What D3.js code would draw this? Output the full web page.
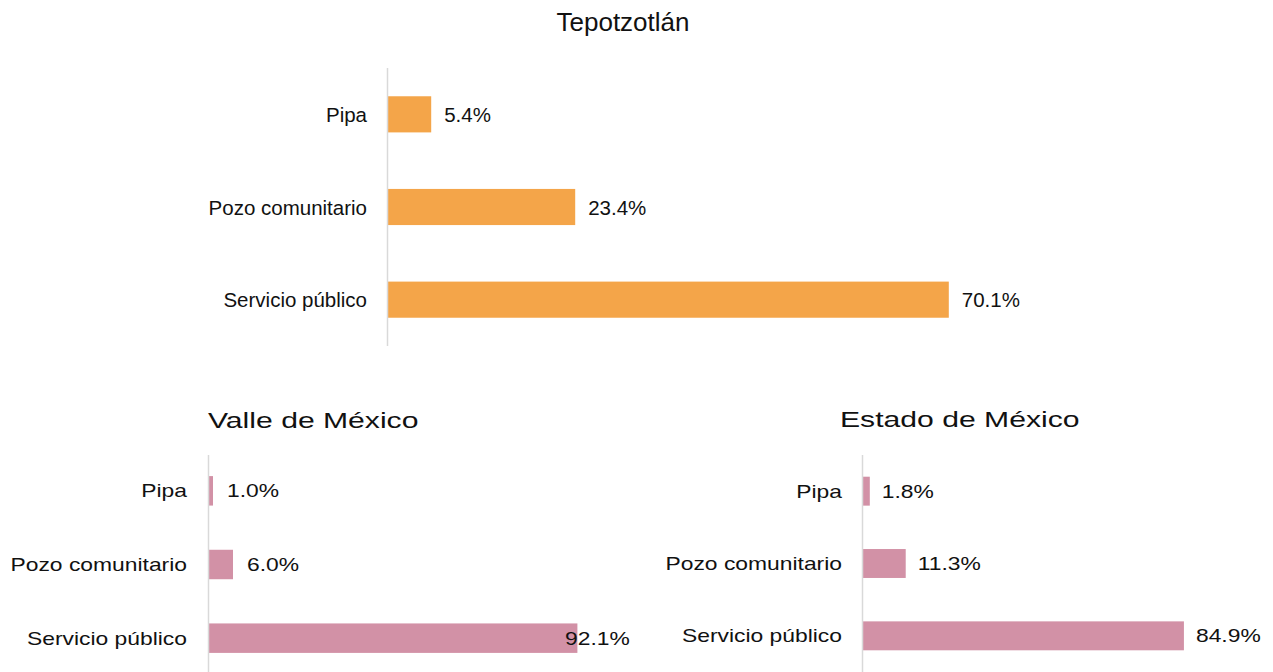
<!DOCTYPE html>
<html><head><meta charset="utf-8">
<script src="https://cdn.jsdelivr.net/npm/d3@7"></script>
<style>
body{margin:0;background:#fff;}
svg{display:block;font-family:"Liberation Sans",Arial,sans-serif;}
</style></head>
<body><svg id="c" width="1273" height="672"></svg>
<script>
const categories = ["Pipa", "Pozo comunitario", "Servicio público"];
const tepotzotlan = [5.4, 23.4, 70.1];
const valleMexico = [1.0, 6.0, 92.1];
const estadoMexico = [1.8, 11.3, 84.9];
const titles = ["Tepotzotlán", "Valle de México", "Estado de México"];

const svg = d3.select("#c");

function panel(cfg){
  const g = svg.append("g");
  const y = d3.scaleBand().domain(categories).range([cfg.y0, cfg.y1]).paddingInner(cfg.pad).paddingOuter(cfg.pad/2);
  const x = d3.scaleLinear().domain([0,100]).range([cfg.x0, cfg.x0 + cfg.w]);
  const fmt = d => d.toFixed(1) + "%";
  // bars
  g.selectAll("rect").data(cfg.values).join("rect")
    .attr("x", x(0)+1).attr("y", (d,i)=>y(categories[i]))
    .attr("width", d=>x(d)-x(0)).attr("height", y.bandwidth())
    .attr("fill", cfg.color);
  // axis line
  const ax = g.append("g").attr("transform", `translate(${cfg.x0+0.5},0)`)
    .call(d3.axisLeft(y).tickSize(0).tickPadding(cfg.tickPad).tickFormat(()=>""));
  ax.select(".domain").attr("stroke","#d9d9d9").attr("stroke-width",1.5)
    .attr("d", `M0,${cfg.axTop}V${cfg.axBot}`);
  // category labels
  g.selectAll("text.cat").data(categories).join("text").attr("class","cat")
    .attr("transform", d=>`translate(${cfg.x0 - cfg.tickPad},${y(d)+y.bandwidth()/2}) scale(${cfg.sx},1)`)
    .attr("text-anchor","end").attr("dominant-baseline","central")
    .attr("font-size", cfg.fs).attr("fill","#111").text(d=>d);
  // value labels
  g.selectAll("text.val").data(cfg.values).join("text").attr("class","val")
    .attr("transform", (d,i)=>{
      let lx = x(d) + cfg.gap;
      if (cfg.maxX) lx = Math.min(lx, cfg.maxX);
      return `translate(${lx},${y(categories[i])+y.bandwidth()/2}) scale(${cfg.sx},1)`;
    })
    .attr("dominant-baseline","central")
    .attr("font-size", cfg.fs).attr("fill","#111").text(fmt);
  // title
  svg.append("text")
    .attr("transform", `translate(${cfg.tx},${cfg.ty}) scale(${cfg.tsx},1)`)
    .attr("text-anchor", cfg.tanchor).attr("font-size", cfg.tfs).attr("fill","#111").text(cfg.title);
}

panel({values:tepotzotlan, title:titles[0], color:"#F4A549",
  x0:387, w:800, y0:68, y1:346, pad:0.61, axTop:68, axBot:346,
  tickPad:20, gap:14, fs:20.5, sx:1,
  tx:623, ty:31, tanchor:"middle", tfs:26, tsx:1});

panel({values:valleMexico, title:titles[1], color:"#D291A6",
  x0:208, w:400, y0:454, y1:675, pad:0.6, axTop:455, axBot:672,
  tickPad:21, gap:15, fs:18, sx:1.27, maxX:565,
  tx:208, ty:428, tanchor:"start", tfs:22, tsx:1.37});

panel({values:estadoMexico, title:titles[2], color:"#D291A6",
  x0:862, w:378, y0:455, y1:672, pad:0.6, axTop:455, axBot:672,
  tickPad:20, gap:13, fs:18, sx:1.27,
  tx:840, ty:427, tanchor:"start", tfs:22, tsx:1.37});
</script></body></html>
